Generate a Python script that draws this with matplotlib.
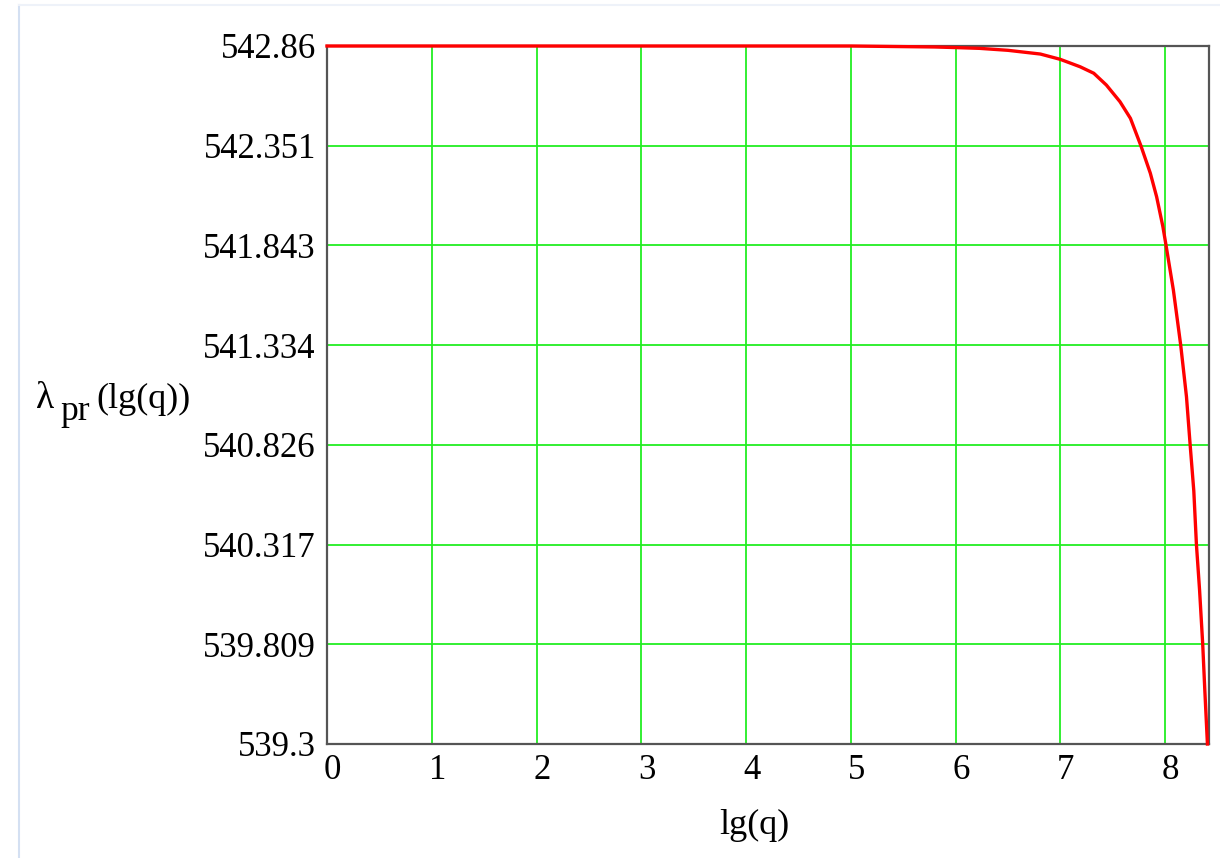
import numpy as np
import matplotlib

matplotlib.use("Agg")
import matplotlib.pyplot as plt
import matplotlib.transforms as mtransforms
from matplotlib.lines import Line2D

# ---- look ------------------------------------------------------------------
RED = "#ff0000"
GRID = "#22ee22"
FRAME = "#555555"
SERIF = ["Liberation Serif", "DejaVu Serif"]

plt.rcParams.update(
    {
        "font.family": SERIF,
        "font.size": 25,
        "axes.linewidth": 1.6,
        "axes.edgecolor": FRAME,
    }
)

# ---- data ------------------------------------------------------------------
lg_q = [0.0, 5.0, 5.8, 6.0, 6.23, 6.5, 6.81, 7.0, 7.19, 7.32, 7.44, 7.57,
        7.67, 7.77, 7.86, 7.92, 7.98, 8.01, 8.08, 8.15, 8.205, 8.24, 8.275,
        8.30, 8.33, 8.36, 8.38, 8.405]
lam_pr = [542.86, 542.86, 542.855, 542.852, 542.848, 542.838, 542.819,
          542.792, 542.754, 542.721, 542.661, 542.576, 542.491, 542.351,
          542.211, 542.091, 541.938, 541.843, 541.615, 541.334, 541.071,
          540.826, 540.59, 540.317, 540.085, 539.809, 539.575, 539.3]

x_ticks = [0, 1, 2, 3, 4, 5, 6, 7, 8]
y_ticks = [542.86, 542.351, 541.843, 541.334, 540.826, 540.317, 539.809, 539.3]
y_tick_labels = ["542.86", "542.351", "541.843", "541.334",
                 "540.826", "540.317", "539.809", "539.3"]

W, H = 1220, 858
fig = plt.figure(figsize=(W / 100, H / 100), dpi=100)
ax = fig.add_axes([327 / W, 1 - 744 / H, (1209 - 327) / W, (744 - 46) / H])

ax.plot(lg_q, lam_pr, color=RED, lw=2.4, zorder=4, clip_on=False,
        solid_joinstyle="round")

ax.set_xlim(0, 8.42)
ax.set_ylim(539.3, 542.86)
ax.set_xticks(x_ticks)
ax.set_xticklabels([str(v) for v in x_ticks])
ax.set_yticks(y_ticks)
ax.set_yticklabels(y_tick_labels)
ax.tick_params(length=0, labelsize=25, colors="black")
ax.tick_params(axis="x", pad=7)
ax.tick_params(axis="y", pad=8)
ax.grid(True, color=GRID, lw=1.3)
ax.set_axisbelow(True)
for s in ax.spines.values():
    s.set_zorder(3)

# Mathcad nudges the x numbers a little to the right of their grid line
shift = mtransforms.ScaledTranslation(5.5 / 100, 0, fig.dpi_scale_trans)
for lab in ax.get_xticklabels():
    lab.set_transform(lab.get_transform() + shift)

# axis titles placed like the Mathcad worksheet
def px(x, y):
    return x / W, 1 - y / H

fig.text(*px(754, 834), "lg(q)", ha="center", va="baseline", fontsize=26)
fig.text(*px(36, 408), "λ", ha="left", va="baseline", fontsize=27)
fig.text(*px(60, 420), "pr", ha="left", va="baseline", fontsize=25.5)
fig.text(*px(96, 408), "(lg(q))", ha="left", va="baseline", fontsize=26)

# faint worksheet frame around the region
fig.add_artist(Line2D([19 / W, 19 / W], [0, 1 - 5 / H], color="#d4e0f2", lw=1.5))
fig.add_artist(Line2D([19 / W, 1], [1 - 5 / H, 1 - 5 / H], color="#eef2f9", lw=1.5))

fig.savefig("out.png", dpi=100, facecolor="white")
